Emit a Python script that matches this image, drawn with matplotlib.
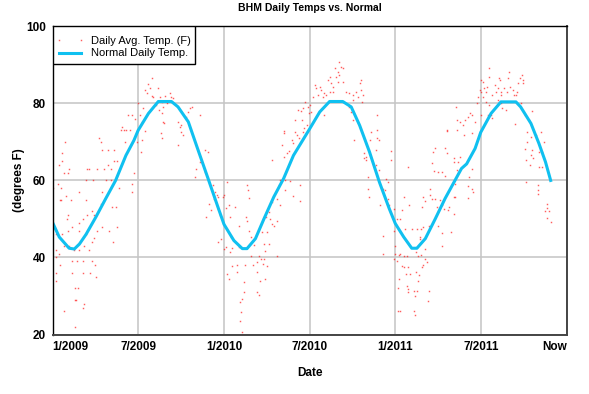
"""
BHM daily average temperatures vs. the normal daily temperature.
"""
import matplotlib
matplotlib.use('Agg')
import matplotlib.pyplot as plt
from matplotlib.patches import Rectangle

# x values are days since 1/1/2009
tick_days = [0, 182.5, 365, 547.5, 730, 912.5, 1095]
tick_labels = ['1/2009', '7/2009', '1/2010', '7/2010', '1/2011', '7/2011', 'Now']

# Daily average temperatures (F)
obs_2009a_day = [182, 160, 170, 175, 148, 152, 145, 156, 164, 178, 153, 180, 27, 99, 103, 105, 131, 117,
                 20, 20, 14, 32, 25, 35, 74, 78, 95, 110, 117, 124, 131, 138, 173, 71, 85, 113, 124, 11,
                 141, 170, 55, 170, 18, 16, 28, 39, 71, 106, 103, 127, 134, 32, 30, 64, 72, 57, 83, 88,
                 42, 32, 55, 95, 106, 120, 138, 20, 8, 71, 83, 87, 7, 25, 35, 46, 57, 67, 78, 129, 13,
                 6, 16, 42, 51, 64, 83, 90, 42, 64, 79, 93, 6, 7, 48, 53, 66, 49, 48, 65, 23, 47, 18, 0]
obs_2009a_temp = [80, 77, 77, 76, 74, 73, 73, 73, 73, 72, 70, 70, 70, 71, 70, 68, 68, 68,
                  67, 65, 64, 62, 62, 63, 63, 63, 63, 63, 64, 63, 65, 65, 62, 60, 60, 60, 60, 59,
                  58, 59, 57, 57, 55, 55, 56, 55, 55, 57, 54, 53, 53, 51, 50, 50, 51, 49, 52, 51,
                  48, 47, 47, 47, 48, 47, 48, 46, 46, 46, 44, 45, 42, 43, 43, 42, 42, 43, 42, 44, 41,
                  40, 38, 39, 39, 39, 39, 38, 36, 36, 36, 35, 36, 34, 32, 32, 28, 29, 29, 27, 26, 22, 58, 58]

obs_2009b_day = [211, 204, 207, 197, 200, 211, 225, 214, 228, 239, 250, 253, 257, 232, 243, 221, 236, 226,
                 232, 236, 238, 193, 186, 190, 197, 190, 188, 231, 232, 271, 274, 278, 267, 289, 292, 297,
                 285, 313, 324, 331, 306, 303, 313, 324, 342, 345, 349, 352, 363, 334, 337, 327, 352, 356,
                 359, 352, 365, 344, 267, 274]
obs_2009b_temp = [86.5, 85, 84, 83.4, 82.6, 82, 84, 81.7, 81.7, 82, 82.6, 81.7, 81.3, 80.4, 80, 79.5, 79.1, 78.2,
                  77.6, 75.2, 74.8, 78.7, 77, 75.2, 72.8, 70.4, 67.4, 72.2, 70.9, 73.9, 72.6, 71.7, 69.1, 77.8, 78.7, 79.1,
                  76.5, 76.9, 67.8, 67.4, 63.1, 60.9, 64.8, 62.2, 58.7, 57, 56.1, 55.7, 55.7, 54, 52.2, 50.5, 52.7, 50.9,
                  44.9, 44, 42.3, 55.3, 75.2, 74.5]

obs_2010a_day = [365, 369, 376, 378, 388, 371, 414, 416, 418, 411, 413, 397, 418, 422, 379, 369, 383, 397,
                 378, 381, 392, 393, 372, 376, 409, 407, 407, 404, 399, 402, 399, 404, 427, 436, 443, 451,
                 448, 457, 436, 441, 453, 436, 439, 422, 429, 450, 460, 439, 453, 478, 446, 457, 468, 471,
                 478, 464, 460, 455, 468, 477, 485, 496, 482, 485, 496, 506, 513, 526, 526, 492, 499, 489,
                 503, 492, 492, 510, 513, 517, 521, 524, 468, 531, 535, 542, 533, 517, 522, 528, 533, 538,
                 543, 547]
obs_2010a_temp = [56.1, 52.8, 53.5, 50.5, 53.1, 59.6, 58.7, 57.4, 55.4, 50.5, 49.6, 48.3, 47, 45.3, 45.3, 42.7, 42.4, 42.7,
                  41.4, 37.9, 38.1, 36.2, 35.8, 34.5, 38.1, 33.6, 31, 29.3, 28.4, 25.8, 23.6, 20.6, 38.1, 38.8, 39.7, 39.7,
                  38.4, 37.9, 36.2, 34, 34.5, 31, 30.3, 40.5, 43.3, 43.6, 43.6, 40.5, 41.8, 40.5, 46.6, 46.6, 48.8, 48.3,
                  49.6, 50, 51.8, 50.5, 54.4, 55.3, 53.5, 57.4, 58.7, 60, 60, 59.8, 56, 54.6, 58.9, 66.1, 67, 69.1,
                  67.6, 72.8, 72.2, 70.4, 69.8, 72.6, 71.7, 70.9, 65.2, 75.6, 73.5, 74.3, 72.6, 75.6, 78.2, 78, 78.8, 80.4,
                  79.1, 77.6]

obs_2010b_day = [548, 551, 558, 562, 565, 569, 555, 572, 576, 579, 583, 586, 590, 593, 597, 601, 604, 608,
                 611, 615, 618, 618, 608, 611, 625, 632, 639, 646, 654, 657, 657, 661, 650, 659, 590, 597,
                 579, 639, 632, 636, 639, 692, 678, 692, 675, 643, 692, 696, 721, 721, 689, 664, 668, 668,
                 689, 696, 671, 710, 714, 671, 673, 703, 707, 709, 714, 717, 697, 728, 703, 704, 728, 730,
                 728, 664]
obs_2010b_temp = [79.5, 77.8, 84.7, 83.9, 82.1, 84.3, 81.7, 83.4, 81.7, 82.6, 82.1, 86, 86.9, 85.2, 84.3, 89.1, 86.9, 88.2,
                  90.8, 89.5, 89.1, 85.6, 85.6, 87.3, 83, 82.6, 82.1, 83, 85.2, 86, 83.4, 82.1, 81.7, 80.4, 83, 83,
                  76.9, 80.8, 79.1, 77.8, 75.6, 76.9, 72.6, 73, 70.4, 70.4, 70.9, 70.4, 67.6, 65.2, 67.8, 67, 66.1, 65.2,
                  63.9, 62.6, 60.9, 60.4, 59.6, 57.9, 55.7, 57.9, 57.4, 55.4, 55.3, 53.5, 53.5, 52.7, 45.6, 41, 47, 43.1,
                  39.7, 65.7]

obs_2011a_day = [734, 741, 748, 744, 760, 750, 765, 776, 785, 783, 758, 730, 737, 748, 755, 741, 734, 744,
                 748, 758, 753, 762, 774, 781, 778, 737, 755, 757, 757, 769, 776, 771, 736, 783, 785, 794,
                 797, 790, 787, 801, 799, 736, 741, 769, 771, 774, 776, 778, 794, 790, 801, 822, 829, 829,
                 849, 833, 843, 845, 829, 818, 808, 815, 825, 794, 787, 789, 803, 804, 829, 836, 822, 813,
                 809, 811, 815, 836, 840, 854, 856, 864, 868, 861, 857, 854, 857, 854, 884, 886, 894, 896,
                 884, 893, 840, 840, 861, 868, 875, 878, 861, 884, 889, 893, 900, 859, 876, 903, 907, 910,
                 912, 893]
obs_2011a_temp = [50.1, 50.1, 55.7, 52.2, 53.7, 47.3, 47.3, 47.3, 47.5, 45.3, 63.5, 41, 40.7, 40.5, 40.5, 41, 39.2, 37.8,
                  37.5, 37.5, 35.8, 35.8, 36.2, 35.5, 34, 34.5, 32.7, 31.9, 31, 31.2, 31.2, 30.1, 32, 44.9, 40.7, 39.7,
                  38.8, 38.1, 37.5, 31.4, 28.6, 26.2, 26, 26.2, 25.1, 41.4, 42.7, 40.5, 42.1, 47.9, 48.3, 48.3, 46.4, 43.1,
                  46.6, 52.7, 52.2, 53.1, 53.5, 53.1, 55.3, 55.1, 54.8, 54.6, 53.1, 55.7, 56.1, 57.7, 62.2, 61.2, 62.2, 62.4,
                  64.6, 67.4, 68.4, 68.4, 67, 65.7, 64.8, 64.8, 66.1, 62.6, 59.2, 55.7, 55.7, 51.3, 58.5, 60.9, 57.9, 57,
                  55.4, 63.1, 72.8, 73, 73, 75.2, 74.3, 75.6, 75.6, 76.5, 77.4, 77, 75.2, 79.1, 71.7, 80, 81.7, 83.4,
                  86, 72.2]

obs_2011b_day = [930, 916, 920, 923, 913, 925, 916, 930, 937, 942, 944, 948, 951, 953, 955, 956, 962, 968,
                 973, 970, 975, 980, 983, 989, 992, 996, 999, 1001, 1003, 934, 937, 927, 930, 955, 958, 966,
                 948, 987, 997, 985, 1006, 1015, 1022, 1011, 1019, 1011, 1029, 1040, 1047, 1006, 1019, 1022, 1024, 1008,
                 1017, 1036, 1043, 1036, 1043, 1008, 1034, 1033, 1034, 1054, 1053, 1058, 1050, 1053, 1061, 923, 913]
obs_2011b_temp = [89.1, 85.6, 83.9, 83, 83, 84.3, 81.7, 86.9, 82.1, 84.7, 83, 83.9, 86.5, 86, 83, 82.1, 83.9, 83,
                  88.2, 86.5, 84.3, 83.4, 82.1, 83, 85.2, 86.5, 87.3, 86, 85.2, 76.9, 76.1, 77.1, 79.5, 80, 78.7, 78.2,
                  80.8, 82.1, 80, 74.6, 76.9, 75.6, 78, 72.6, 71.3, 70, 71.7, 72.6, 70, 68.1, 66.5, 67.8, 65.7, 65.2,
                  64.1, 67.4, 67.4, 63.5, 63.5, 59.6, 58.9, 57.4, 56.6, 54, 52.8, 52, 52, 50.2, 49.2, 80.4, 77]

obs_day = obs_2009a_day + obs_2009b_day + obs_2010a_day + obs_2010b_day + obs_2011a_day + obs_2011b_day
obs_temp = obs_2009a_temp + obs_2009b_temp + obs_2010a_temp + obs_2010b_temp + obs_2011a_temp + obs_2011b_temp

# Normal daily temperature (F)
norm_day = [0, 14, 35, 46, 57, 71, 92, 113, 134, 156, 173, 182, 204, 225, 253, 267, 289, 310, 331, 352, 365,
            386, 404, 414, 432, 450, 471, 492, 513, 535, 547, 569, 590, 618, 636, 654, 675, 696, 717, 730,
            748, 765, 776, 794, 815, 836, 871, 882, 900, 912, 934, 955, 987, 997, 1019, 1036, 1050, 1061]
norm_temp = [49, 45.3, 42.4, 42.2, 43.5, 46, 50.5, 55.3, 60, 66.5, 70.4, 73, 77.4, 80.5, 80.5, 79.1, 75.2, 67.8, 60.5, 53.1, 48.6,
             44.4, 42.3, 42.3, 44.9, 50, 55.7, 60.5, 66.5, 70.9, 73.3, 77.8, 80.5, 80.5, 79.1, 74.3, 67.4, 59.6, 52.7, 48.8,
             45.3, 42.4, 42.4, 44.9, 50, 55.3, 63.1, 64.3, 68.3, 72.5, 77.4, 80.4, 80.4, 79.1, 74.8, 69.6, 64.8, 60]

plt.rcParams['font.family'] = ['Liberation Sans', 'DejaVu Sans']

fig = plt.figure(figsize=(5.89, 3.94), dpi=100)
ax = fig.add_axes([0.0895, 0.151, 0.8725, 0.782])

# Daily scatter
ax.plot(obs_day, obs_temp, linestyle='none', marker='s', markersize=1.05,
        markeredgewidth=0, color='#ff1a1a', alpha=0.7, label='Daily Avg. Temp. (F)')

# Normal curve
ax.plot(norm_day, norm_temp, color='#10c0f0', linewidth=2.2, label='Normal Daily Temp.',
        solid_joinstyle='round')

ax.set_xlim(0, 1095)
ax.set_ylim(20, 100)
ax.set_yticks([20, 40, 60, 80, 100])
ax.set_xticks(tick_days)
ax.set_xticklabels(tick_labels)

for lbl in ax.get_xticklabels() + ax.get_yticklabels():
    lbl.set_fontweight('bold')
    lbl.set_fontsize(8.5)
ax.get_xticklabels()[0].set_horizontalalignment('left')
ax.get_xticklabels()[-1].set_horizontalalignment('right')
ax.tick_params(axis='both', length=0, pad=5)

ax.grid(True, color='#c4c4c4', linewidth=1.1)
ax.set_axisbelow(True)
for side in ['left', 'top']:
    ax.spines[side].set_color('#000000')
    ax.spines[side].set_linewidth(1.0)
for side in ['right', 'bottom']:
    ax.spines[side].set_color('#444444')
    ax.spines[side].set_linewidth(1.4)

ax.set_title('BHM Daily Temps vs. Normal', fontsize=7.5, fontweight='bold', pad=11)
ax.set_xlabel('Date', fontsize=8.5, fontweight='bold', labelpad=10)
ax.set_ylabel('(degrees F)', fontsize=8.5, fontweight='bold', labelpad=1)

# Legend: frameless, with a square box drawn behind it
legend_box = Rectangle((0, 0.877), 0.277, 0.123, transform=ax.transAxes,
                       facecolor='white', edgecolor='#000000', linewidth=1.0, zorder=4)
ax.add_patch(legend_box)
leg = ax.legend(loc='upper left', bbox_to_anchor=(0.006, 0.968), borderaxespad=0, fontsize=8,
                numpoints=2, handlelength=2.6, frameon=False, borderpad=0,
                labelspacing=0.2, handletextpad=0.55)
leg.set_zorder(5)

plt.savefig('out.png', dpi=100)
plt.close(fig)
